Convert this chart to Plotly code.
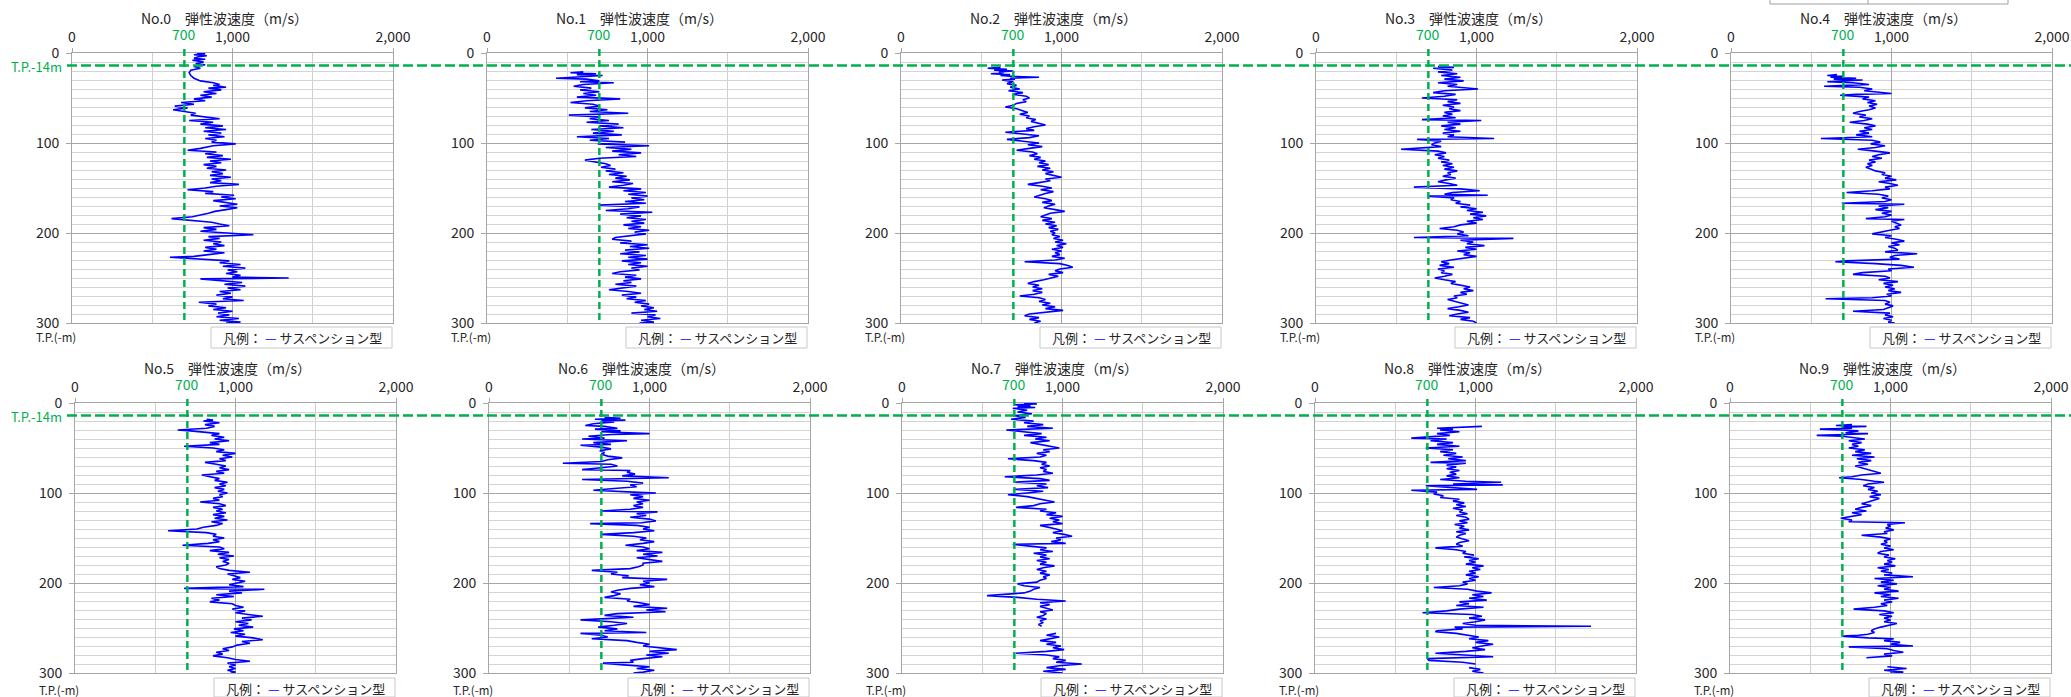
import plotly.graph_objects as go

# ---------------- data (depth T.P.-m, velocity m/s) ----------------
panel_names = ["No.0", "No.1", "No.2", "No.3", "No.4", "No.5", "No.6", "No.7", "No.8", "No.9"]
x_tick_vals = [0, 1000, 2000]
x_tick_text = ["0", "1,000", "2,000"]
y_tick_vals = [0, 100, 200, 300]
threshold_velocity = 700
tp_depth = 14

no0 = [(0,780),(1,830),(2,760),(3,840),(4,790),(6,760),(7,830),(8,750),(10,820),(12,770),(13,830),(15,760),(17,800),(19,740),(22,730),(25,740),(28,760),(31,800),(33,880),(35,920),(36,880),(38,960),(39,850),(41,930),(43,820),(45,900),(47,800),(49,870),(51,760),(53,830),(55,680),(57,760),(59,640),(61,720),(63,630),(65,700),(67,770),(69,740),(71,830),(73,920),(75,730),(77,880),(79,800),(81,940),(83,830),(85,960),(87,820),(89,930),(91,850),(93,950),(95,830),(97,900),(99,870),(101,1020),(103,880),(106,800),(108,720),(110,900),(112,830),(114,940),(116,840),(118,990),(120,860),(122,930),(124,820),(126,900),(128,840),(130,960),(132,870),(134,940),(136,860),(138,990),(140,870),(142,930),(144,860),(146,1040),(148,900),(150,830),(152,720),(154,880),(156,830),(158,1010),(160,930),(162,1020),(164,880),(166,970),(168,1030),(170,920),(172,1030),(174,960),(176,890),(178,850),(180,800),(182,750),(184,620),(186,760),(188,870),(190,920),(192,980),(194,820),(196,900),(198,800),(200,940),(202,1130),(204,850),(206,920),(208,820),(210,930),(212,880),(214,950),(216,830),(218,900),(220,820),(222,950),(224,850),(226,760),(227,610),(229,790),(231,980),(233,920),(235,1050),(237,940),(239,1080),(241,970),(243,1030),(245,960),(247,1050),(249,1000),(250,1350),(251,800),(253,960),(255,1060),(257,950),(259,1080),(261,970),(263,1050),(265,920),(267,990),(269,900),(271,1000),(273,940),(275,1070),(277,790),(279,900),(281,850),(283,960),(285,880),(287,1000),(289,910),(291,980),(293,900),(295,1040),(297,920),(299,1050),(300,960)]

no1 = [(21,600),(22,520),(23,680),(24,560),(25,720),(27,560),(28,430),(29,620),(31,700),(32,580),(33,790),(35,600),(37,540),(39,650),(41,580),(43,700),(45,600),(47,680),(49,560),(51,830),(53,620),(55,520),(57,660),(59,700),(61,610),(63,750),(65,640),(67,880),(69,510),(71,700),(73,640),(75,760),(77,620),(79,820),(81,700),(83,850),(85,650),(87,790),(89,660),(91,840),(93,560),(95,760),(97,640),(99,860),(101,690),(103,1010),(105,740),(107,900),(109,780),(111,960),(113,820),(115,930),(117,700),(119,610),(121,680),(123,740),(125,770),(127,710),(129,800),(131,740),(133,850),(135,760),(137,870),(139,800),(141,890),(143,780),(145,910),(147,850),(149,760),(151,960),(153,850),(155,990),(157,880),(159,1000),(161,900),(163,980),(165,860),(167,990),(169,700),(171,950),(173,880),(175,740),(177,1030),(179,830),(181,960),(183,870),(185,990),(187,900),(189,980),(191,850),(193,960),(195,880),(197,1010),(199,920),(201,990),(203,870),(205,800),(207,780),(209,900),(211,830),(213,1000),(215,890),(217,1010),(219,860),(221,950),(223,830),(225,990),(227,880),(229,1000),(231,840),(233,960),(235,880),(237,1000),(239,900),(241,950),(243,830),(245,780),(247,930),(249,860),(251,960),(253,850),(255,900),(257,800),(259,930),(261,850),(263,760),(265,880),(267,960),(269,840),(271,930),(273,870),(275,990),(277,920),(279,1010),(281,960),(283,1040),(285,980),(287,1060),(289,900),(291,1050),(293,1000),(295,1080),(297,960),(299,1040),(300,950)]

no2 = [(16,620),(17,540),(18,660),(19,580),(20,700),(21,610),(22,640),(23,560),(24,680),(25,620),(26,700),(27,860),(28,680),(29,710),(30,630),(32,700),(34,660),(36,720),(38,680),(40,740),(42,670),(44,760),(46,700),(48,780),(50,800),(52,760),(54,780),(56,720),(58,700),(60,650),(62,720),(64,760),(66,790),(68,740),(70,800),(72,780),(74,840),(76,810),(78,860),(80,900),(82,830),(84,780),(86,830),(88,650),(90,760),(92,860),(94,800),(96,660),(98,760),(100,860),(102,790),(104,880),(106,800),(108,720),(110,820),(112,850),(114,800),(116,870),(118,830),(120,900),(122,860),(124,920),(126,850),(128,930),(130,880),(132,950),(134,900),(136,960),(138,1000),(140,900),(142,930),(144,860),(146,790),(148,880),(150,940),(152,870),(154,950),(156,900),(158,870),(160,830),(162,900),(164,940),(166,880),(168,960),(170,920),(172,890),(174,960),(176,1020),(178,930),(180,900),(182,870),(184,940),(186,880),(188,960),(190,900),(192,970),(194,920),(196,980),(198,930),(200,960),(202,940),(204,990),(206,950),(208,1010),(210,960),(212,1030),(214,970),(216,1010),(218,940),(220,1000),(222,960),(224,990),(226,940),(228,1020),(230,960),(232,770),(234,990),(236,1040),(238,1070),(240,990),(242,960),(244,1010),(246,920),(248,980),(250,940),(252,890),(254,830),(256,790),(258,860),(260,820),(262,880),(264,820),(266,880),(268,830),(270,740),(272,860),(274,900),(276,860),(278,930),(280,880),(282,960),(284,900),(286,1010),(288,880),(290,800),(292,770),(294,860),(296,800),(298,870),(300,830)]

no3 = [(15,760),(16,860),(17,730),(19,850),(21,760),(23,880),(25,780),(27,900),(29,800),(31,920),(33,760),(35,880),(37,820),(39,940),(40,1010),(42,800),(44,730),(46,870),(48,800),(50,660),(52,880),(54,820),(56,900),(58,790),(60,860),(62,830),(64,900),(66,800),(68,850),(70,790),(72,870),(74,660),(75,1030),(77,820),(79,900),(81,780),(83,870),(85,800),(87,900),(89,790),(91,860),(93,820),(95,1110),(96,630),(98,780),(100,740),(102,720),(104,780),(107,530),(109,760),(111,810),(113,740),(115,800),(117,760),(119,830),(121,780),(123,850),(125,790),(127,860),(129,800),(131,880),(133,820),(135,840),(137,790),(139,870),(141,810),(143,760),(145,830),(147,880),(149,610),(151,900),(153,1020),(155,850),(157,800),(158,1070),(159,700),(161,860),(163,840),(165,900),(167,870),(169,960),(171,900),(173,1000),(175,940),(177,1040),(179,960),(181,1060),(183,980),(185,1040),(187,940),(189,1000),(191,900),(193,860),(195,770),(197,880),(199,920),(201,880),(203,950),(205,610),(206,1230),(208,900),(210,980),(212,940),(214,1050),(216,930),(218,1000),(220,880),(222,960),(224,920),(226,1000),(228,900),(230,840),(232,780),(234,830),(236,770),(238,860),(240,760),(242,800),(244,780),(246,850),(248,800),(250,740),(252,800),(254,870),(256,840),(258,900),(260,960),(262,920),(264,980),(266,900),(268,940),(270,860),(272,880),(274,820),(276,870),(278,900),(280,950),(282,890),(284,820),(286,900),(288,950),(290,880),(292,830),(294,960),(296,900),(298,980),(300,1000)]

no4 = [(24,660),(25,600),(26,700),(27,620),(28,780),(29,640),(30,820),(31,700),(32,600),(33,760),(35,860),(36,720),(37,580),(38,800),(40,880),(42,830),(44,940),(45,1000),(46,780),(47,680),(49,860),(51,820),(53,900),(55,850),(57,910),(59,860),(61,900),(63,860),(65,800),(67,760),(69,840),(71,800),(73,880),(75,830),(77,740),(79,850),(81,900),(83,830),(85,880),(87,800),(89,860),(91,780),(93,880),(95,560),(97,880),(99,930),(101,870),(103,960),(105,900),(107,790),(109,900),(111,990),(113,920),(115,880),(117,940),(119,860),(121,900),(123,850),(125,880),(127,840),(129,870),(131,900),(133,960),(135,940),(137,1000),(139,960),(141,1030),(143,920),(145,990),(147,1040),(149,960),(151,990),(153,880),(155,720),(157,920),(159,980),(161,940),(163,1000),(165,960),(167,690),(168,1080),(170,920),(172,980),(174,900),(176,1000),(178,940),(180,1000),(182,960),(184,840),(185,1080),(187,1000),(189,1030),(191,1060),(193,1020),(195,1050),(197,990),(199,940),(201,880),(203,1000),(205,960),(207,1030),(209,1080),(211,1000),(213,1050),(215,980),(217,1020),(219,1040),(221,960),(223,1160),(225,1020),(227,990),(229,1050),(231,720),(232,650),(234,900),(236,1060),(238,1140),(240,980),(242,1000),(244,820),(246,760),(248,960),(250,990),(252,920),(254,1040),(256,950),(258,1010),(260,960),(262,1020),(264,980),(266,1060),(268,970),(270,1000),(272,880),(273,590),(275,960),(277,990),(279,960),(281,1010),(283,980),(285,950),(287,760),(289,990),(291,960),(293,1010),(295,950),(297,1000),(299,980),(300,1020)]

no5 = [(18,820),(19,860),(20,800),(22,900),(24,810),(26,870),(28,820),(30,640),(31,720),(32,780),(34,900),(36,850),(38,930),(40,870),(42,960),(44,840),(46,900),(48,680),(50,860),(52,930),(54,880),(56,1000),(58,920),(60,980),(62,900),(64,940),(66,810),(68,880),(70,940),(72,900),(74,960),(76,880),(78,930),(80,790),(82,850),(84,900),(86,870),(88,950),(90,900),(92,940),(94,870),(96,930),(98,890),(100,950),(102,900),(104,920),(106,860),(108,900),(110,780),(112,900),(114,940),(116,860),(118,920),(120,880),(122,940),(124,860),(126,930),(128,870),(130,950),(132,850),(134,920),(136,880),(138,800),(140,760),(142,580),(144,820),(146,880),(148,860),(150,930),(152,860),(154,900),(156,830),(158,670),(160,900),(162,930),(164,840),(166,960),(168,890),(170,990),(172,900),(174,960),(176,920),(178,960),(180,940),(182,880),(184,900),(186,960),(188,1090),(190,950),(192,1000),(194,1030),(196,980),(198,1060),(200,1010),(202,960),(204,1050),(206,680),(207,1180),(209,960),(211,1040),(213,880),(215,990),(217,850),(219,900),(221,840),(223,980),(225,1000),(227,1050),(229,980),(231,1060),(233,1000),(235,1080),(237,1170),(239,1040),(241,1100),(243,1000),(245,1080),(247,1020),(249,1110),(251,990),(253,1050),(255,970),(257,1060),(259,1000),(261,1110),(263,1170),(265,1040),(267,1090),(269,1010),(271,980),(273,920),(275,960),(277,880),(279,920),(281,860),(283,950),(285,1000),(287,1090),(289,950),(291,1000),(293,960),(295,1000),(297,950),(299,1000),(300,970)]

no6 = [(16,720),(17,820),(18,660),(19,850),(20,700),(21,780),(23,650),(25,600),(26,720),(28,800),(29,660),(31,820),(32,700),(34,1000),(35,760),(37,620),(39,720),(40,580),(42,860),(44,650),(46,760),(47,570),(49,700),(51,760),(53,690),(55,720),(57,700),(59,740),(61,830),(63,740),(65,700),(67,460),(68,760),(70,800),(72,700),(74,580),(75,880),(77,860),(79,910),(81,830),(83,1120),(84,720),(85,580),(87,860),(89,960),(91,880),(93,920),(95,780),(97,650),(99,900),(100,1040),(102,880),(104,960),(106,900),(108,1000),(110,920),(112,960),(114,900),(116,960),(118,880),(120,700),(121,1050),(123,920),(125,980),(127,880),(129,1000),(131,1040),(133,950),(134,630),(136,920),(138,1000),(140,960),(142,1030),(144,900),(146,700),(148,900),(150,980),(152,940),(154,1030),(156,960),(158,850),(160,960),(162,1000),(164,920),(166,1080),(168,960),(170,1050),(172,920),(174,1000),(176,1080),(178,960),(180,960),(182,930),(184,880),(186,640),(188,800),(190,760),(192,870),(194,830),(196,1110),(198,960),(200,1000),(202,940),(204,1030),(206,880),(208,800),(210,760),(212,820),(214,780),(216,720),(218,880),(220,860),(222,940),(224,1000),(226,900),(228,1110),(230,980),(232,1100),(234,800),(236,720),(238,900),(240,640),(241,570),(243,760),(245,860),(247,780),(249,680),(251,800),(253,720),(255,980),(256,570),(258,700),(260,740),(262,640),(264,860),(266,920),(268,1000),(270,960),(272,1090),(274,1170),(276,1000),(278,1120),(280,980),(282,1080),(284,960),(286,880),(288,900),(289,710),(291,840),(293,1000),(295,920),(297,1030),(299,960),(300,900)]

no7 = [(0,760),(1,840),(2,700),(3,800),(4,720),(5,830),(6,690),(8,780),(10,720),(12,810),(14,700),(16,770),(18,680),(20,820),(22,760),(24,880),(26,780),(28,940),(30,650),(32,780),(34,870),(36,760),(38,900),(40,830),(42,920),(44,800),(46,860),(48,910),(50,980),(52,880),(54,920),(56,840),(58,900),(60,860),(62,660),(64,820),(66,900),(68,870),(70,920),(72,860),(74,900),(76,880),(78,940),(80,840),(82,640),(84,860),(86,920),(88,700),(90,900),(92,840),(94,910),(96,700),(98,880),(100,780),(102,660),(104,780),(106,840),(108,900),(110,950),(112,860),(114,820),(116,710),(118,900),(120,860),(122,960),(124,900),(126,1000),(128,920),(130,980),(132,940),(134,1000),(136,860),(138,920),(140,960),(142,1000),(144,940),(146,1010),(148,1060),(150,960),(152,990),(154,930),(156,1020),(157,690),(159,800),(161,900),(163,860),(165,940),(167,820),(169,900),(171,860),(173,920),(175,840),(177,900),(179,860),(181,950),(183,880),(185,840),(187,900),(189,860),(191,920),(193,880),(195,900),(197,860),(199,840),(201,720),(203,760),(205,860),(207,820),(209,800),(211,760),(213,620),(214,530),(216,720),(218,840),(220,1020),(222,860),(224,920),(226,860),(228,900),(230,940),(232,860),(234,900),(236,880),(238,840),(240,900),(242,860),(244,880),(246,850),(248,870),(252,None),(256,960),(258,900),(260,980),(262,920),(264,860),(266,960),(268,900),(270,990),(272,940),(274,1010),(276,900),(278,710),(280,900),(282,980),(284,940),(286,1020),(288,960),(290,1120),(292,980),(294,900),(296,1020),(298,880),(300,1000)]

no8 = [(26,1040),(27,880),(28,760),(29,860),(30,780),(32,900),(34,760),(36,840),(38,700),(39,600),(40,820),(42,720),(44,860),(46,760),(48,900),(50,690),(52,860),(54,780),(56,880),(58,800),(60,920),(62,830),(64,940),(66,720),(67,940),(69,820),(71,880),(73,820),(75,900),(77,840),(79,880),(81,820),(83,900),(85,780),(87,940),(88,1160),(90,860),(91,1170),(92,690),(94,860),(96,1010),(97,600),(99,760),(101,740),(103,800),(105,780),(107,900),(109,860),(111,930),(113,880),(115,940),(117,860),(119,920),(121,900),(123,950),(125,880),(127,940),(129,960),(131,900),(133,950),(135,870),(137,930),(139,900),(141,960),(143,880),(145,940),(147,900),(149,880),(151,920),(153,960),(155,900),(157,880),(159,920),(161,750),(163,880),(165,940),(167,920),(169,990),(171,930),(173,1020),(175,960),(177,1000),(179,940),(181,1050),(183,980),(185,1030),(187,960),(189,1000),(191,940),(193,1020),(195,960),(197,1000),(199,920),(201,950),(203,900),(205,740),(207,950),(209,1010),(211,1100),(213,980),(215,1050),(217,960),(219,1070),(221,900),(223,960),(225,880),(227,1050),(229,900),(231,820),(233,670),(235,980),(237,1040),(239,960),(241,1060),(243,1000),(245,920),(247,1000),(248,1720),(249,870),(251,920),(253,760),(254,750),(256,880),(258,960),(260,1020),(262,960),(264,1080),(266,1000),(268,1110),(270,1040),(272,980),(274,1060),(276,940),(278,750),(280,900),(282,1110),(284,700),(286,710),(288,920),(290,1000),(292,None),(294,960),(296,1030),(298,980),(300,1050)]

no9 = [(24,760),(25,660),(26,850),(27,700),(28,760),(29,560),(30,700),(31,800),(33,720),(34,860),(35,720),(36,540),(37,700),(38,760),(40,840),(42,740),(44,820),(46,760),(48,800),(50,740),(52,840),(54,780),(56,880),(58,760),(60,900),(62,790),(64,880),(66,800),(68,860),(70,780),(72,820),(74,860),(76,900),(78,940),(80,820),(82,760),(83,680),(85,820),(87,900),(88,960),(90,860),(92,830),(94,900),(96,860),(98,920),(100,880),(102,940),(104,870),(106,930),(108,900),(110,860),(112,820),(114,880),(116,820),(118,780),(120,850),(122,760),(124,820),(126,740),(128,690),(130,760),(132,740),(133,1090),(135,980),(137,1000),(139,970),(141,1020),(143,960),(145,980),(147,820),(149,940),(151,1000),(153,960),(155,980),(157,940),(159,1000),(161,960),(163,1020),(165,940),(167,920),(169,990),(171,960),(173,1030),(175,980),(177,1010),(179,960),(181,1030),(183,920),(185,990),(187,940),(189,1010),(191,960),(193,1140),(195,900),(197,1020),(199,940),(201,1040),(203,920),(205,1000),(207,960),(209,1050),(211,900),(213,1000),(215,940),(217,1050),(219,960),(221,1010),(223,940),(225,980),(227,900),(229,770),(231,960),(233,1020),(235,930),(237,1010),(239,960),(241,1000),(243,960),(245,1040),(247,980),(249,940),(251,900),(253,880),(255,900),(257,860),(258,800),(259,700),(261,860),(262,1020),(264,960),(266,1060),(268,1000),(270,1140),(271,740),(273,980),(275,1020),(277,1080),(279,960),(281,1010),(283,850),(285,None),(293,980),(295,1100),(297,960),(299,1080),(300,1000)]

profiles = [no0, no1, no2, no3, no4, no5, no6, no7, no8, no9]

# ---------------- layout geometry (pixels) ----------------
W, H = 2071, 697
X_MAX = 2000
Y_MAX = 300
col_left = [[72, 487, 901, 1316, 1731], [75, 489, 902, 1315, 1730]]
plot_w = 321
row_top = [53, 403]
plot_h = 270
legend_gap = [4, 5]          # gap between plot bottom and legend box, per row
unit_gap = [14, 17]          # gap between plot bottom and "T.P.(-m)" centre, per row

GREEN = "#00B050"
BLUE = "#0000FF"
TXT = "#262626"
FONT = "Noto Sans CJK JP"

fig = go.Figure()
layout = {}
annotations = []
shapes = []

for i, (name, prof) in enumerate(zip(panel_names, profiles)):
    r, c = divmod(i, 5)
    xid = "x" if i == 0 else f"x{i+1}"
    yid = "y" if i == 0 else f"y{i+1}"
    xkey = "xaxis" if i == 0 else f"xaxis{i+1}"
    ykey = "yaxis" if i == 0 else f"yaxis{i+1}"
    left = col_left[r][c]
    top = row_top[r]
    bottom = top + plot_h
    xd = [left / W, (left + plot_w) / W]
    yd = [1 - bottom / H, 1 - top / H]

    depths = [p[0] for p in prof]
    vels = [p[1] for p in prof]
    fig.add_trace(go.Scatter(x=vels, y=depths, mode="lines",
                             line=dict(color=BLUE, width=1.6),
                             connectgaps=False, showlegend=False,
                             xaxis=xid, yaxis=yid, hoverinfo="x+y"))

    layout[xkey] = dict(domain=xd, anchor=yid, side="top", range=[0, X_MAX],
                        tickvals=x_tick_vals, ticktext=x_tick_text,
                        ticks="outside", ticklen=4, tickcolor="#a6a6a6",
                        showgrid=True, gridcolor="#a6a6a6", gridwidth=1,
                        minor=dict(dtick=500, showgrid=True, gridcolor="#d0d0d0", gridwidth=1, ticks=""),
                        showline=True, linecolor="#a6a6a6", linewidth=1, mirror=True,
                        zeroline=False, automargin=False,
                        tickfont=dict(size=14, color=TXT, family=FONT),
                        fixedrange=True)
    layout[ykey] = dict(domain=yd, anchor=xid, range=[Y_MAX, 0],
                        tickvals=y_tick_vals, ticks="outside", ticklen=5, tickcolor="#a6a6a6",
                        showgrid=True, gridcolor="#a6a6a6", gridwidth=1,
                        minor=dict(dtick=10, showgrid=True, gridcolor="#d4d4d4", gridwidth=1, ticks=""),
                        showline=True, linecolor="#a6a6a6", linewidth=1, mirror=True,
                        zeroline=False, automargin=False, ticklabelstandoff=4,
                        tickfont=dict(size=14, color=TXT, family=FONT), fixedrange=True)

    # panel title
    annotations.append(dict(text=f"{name}\u3000弾性波速度（m/s）", xref="paper", yref="paper",
                            x=(left + plot_w / 2 - 8) / W, y=1 - (top - 35) / H,
                            xanchor="center", yanchor="middle", showarrow=False,
                            font=dict(size=14, color=TXT, family=FONT)))
    # threshold label
    annotations.append(dict(text=str(threshold_velocity), xref=f"{xid} domain", yref="paper",
                            x=threshold_velocity / X_MAX, y=1 - (top - 19) / H,
                            xanchor="center", yanchor="middle", showarrow=False,
                            font=dict(size=14, color=GREEN, family=FONT)))
    # depth unit label
    annotations.append(dict(text="T.P.(-m)", xref="paper", yref="paper",
                            x=(left - 38) / W, y=1 - (bottom + unit_gap[r]) / H,
                            xanchor="left", yanchor="middle", showarrow=False,
                            font=dict(size=11.5, color=TXT, family=FONT)))
    # legend box + text
    lg_top = bottom + legend_gap[r]
    lg_bot = min(lg_top + 21, H)
    shapes.append(dict(type="rect", xref="paper", yref="paper",
                       x0=(left + 139) / W, x1=(left + plot_w - 1) / W,
                       y0=1 - lg_bot / H, y1=1 - lg_top / H,
                       line=dict(color="#c8c8c8", width=1), fillcolor="white", layer="above"))
    annotations.append(dict(text=f"凡例：&nbsp;<span style='color:{BLUE}'>—</span>&nbsp;サスペンション型",
                            xref="paper", yref="paper",
                            x=(left + 139 + (plot_w - 139) / 2) / W,
                            y=1 - min(lg_top + 10.5, H - 9) / H,
                            xanchor="center", yanchor="middle", showarrow=False,
                            font=dict(size=13, color=TXT, family=FONT)))
    # threshold vertical dashed line
    shapes.append(dict(type="line", xref=f"{xid} domain", yref=f"{yid} domain",
                       x0=threshold_velocity / X_MAX, x1=threshold_velocity / X_MAX,
                       y0=3 / plot_h, y1=1 + 5 / plot_h,
                       line=dict(color=GREEN, width=2.5, dash="7px,4px"), layer="above"))

# T.P.-14m lines (one per row) and labels
for r in range(2):
    yid = "y" if r == 0 else "y6"
    shapes.append(dict(type="line", xref="paper", yref=f"{yid} domain",
                       x0=67 / W, x1=1, y0=1 - tp_depth / Y_MAX, y1=1 - tp_depth / Y_MAX,
                       line=dict(color=GREEN, width=2.5, dash="10px,4px"), layer="above"))
    annotations.append(dict(text=f"T.P.-{tp_depth}m", xref="paper", yref=f"{yid} domain",
                            x=64 / W, y=1 - tp_depth / Y_MAX, yshift=-1,
                            xanchor="right", yanchor="middle", showarrow=False,
                            font=dict(size=13, color=GREEN, family=FONT)))

# partially visible box at the top right edge (only its lower part is in view)
for seg in [(1770, 2008, 4, 4), (1770, 1770, 0, 4), (1868, 1868, 0, 4), (2008, 2008, 0, 4)]:
    shapes.append(dict(type="line", xref="paper", yref="paper",
                       x0=seg[0] / W, x1=seg[1] / W, y0=1 - seg[2] / H, y1=1 - seg[3] / H,
                       line=dict(color="#a0a0a0", width=1)))

fig.update_layout(width=W, height=H, margin=dict(l=0, r=0, t=0, b=0, autoexpand=False),
                  paper_bgcolor="white", plot_bgcolor="white",
                  font=dict(family=FONT, color=TXT),
                  annotations=annotations, shapes=shapes, showlegend=False,
                  hovermode=False, **layout)

fig.write_html("out.html",
               config={"displayModeBar": False, "staticPlot": True},
               post_script="document.body.style.margin='0';document.body.style.overflow='hidden';")
